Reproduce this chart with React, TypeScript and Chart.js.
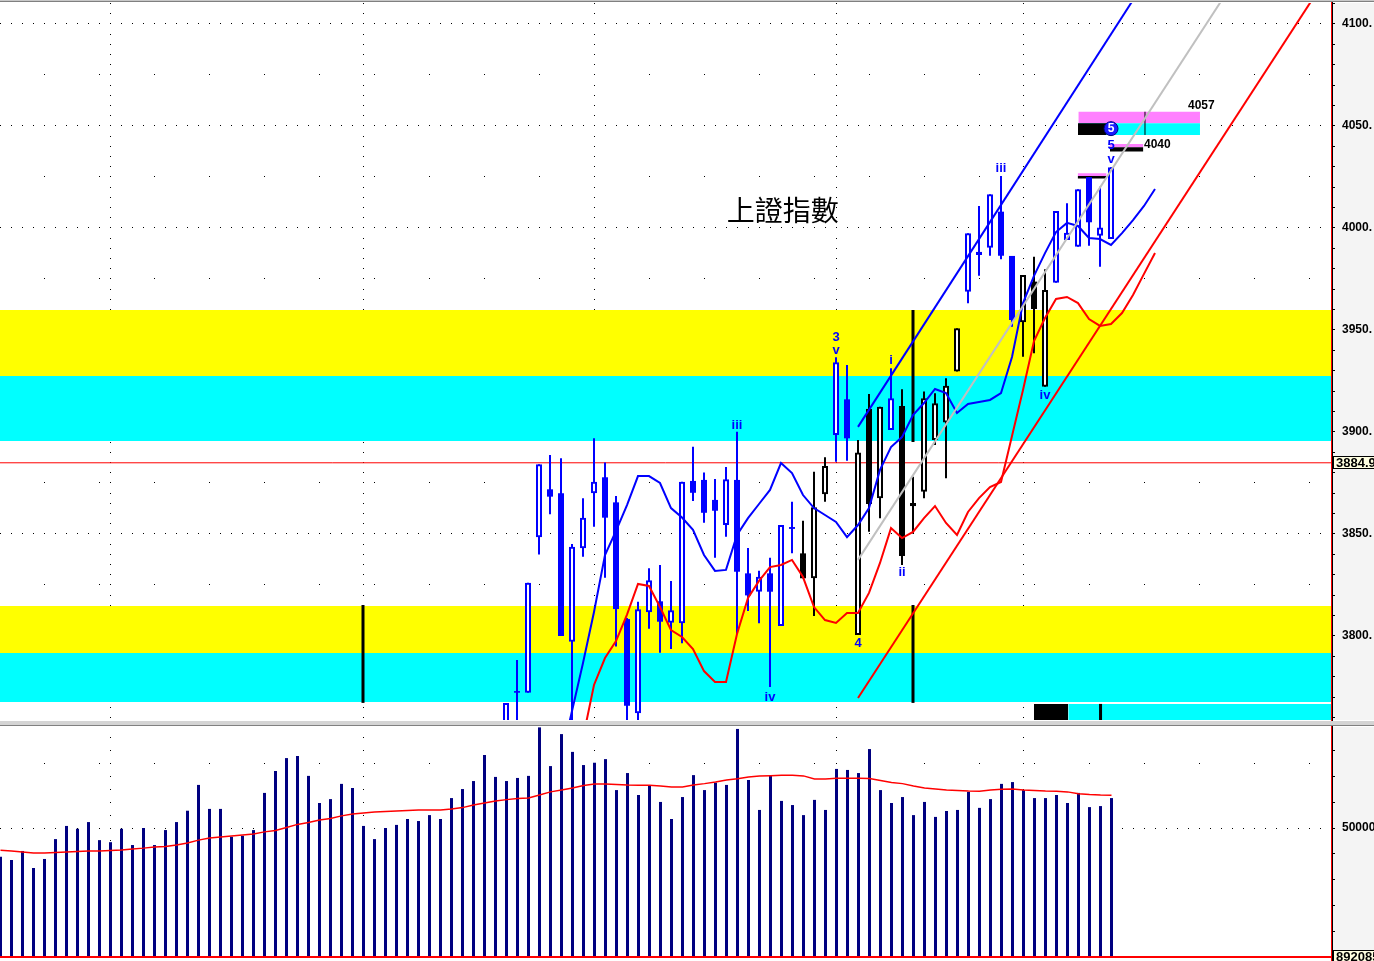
import React, { useEffect, useRef } from 'react';
import { Chart, registerables } from 'chart.js';

Chart.register(...registerables);

// ---------------- scale ranges ----------------
const X_MAX = 121.0;
const P_MIN = 3758.82;
const P_MAX = 4110.29;
const V_MIN = -775;
const V_MAX = 89148;

// ---------------- price candles (bar index 46 .. 101) ----------------
const CANDLE_START = 46;
const OPEN = [3752.0, 3773.0, 3772.2, 3848.4, 3871.9, 3870.0, 3797.2, 3843.0, 3870.0, 3877.8, 3865.5, 3808.3, 3762.1, 3811.6, 3817.0, 3806.5, 3806.2, 3876.0, 3876.5, 3866.7, 3854.4, 3876.5, 3830.7, 3821.7, 3830.7, 3804.9, 3853.4, 3840.5, 3828.3, 3869.5, 3898.5, 3916.0, 3800.5, 3911.3, 3867.5, 3901.0, 3912.7, 3865.2, 3870.7, 3896.1, 3904.6, 3929.6, 3968.8, 3986.8, 3990.3, 4008.0, 3986.3, 3953.8, 3973.7, 3922.2, 3973.2, 3994.1, 3990.8, 4024.9, 3996.2, 3994.6];
const HIGH = [3767.2, 3788.2, 3826.1, 3884.2, 3888.7, 3887.1, 3845.1, 3867.5, 3896.9, 3885.1, 3868.6, 3808.8, 3816.8, 3833.2, 3834.8, 3827.0, 3875.6, 3892.8, 3880.1, 3877.0, 3882.8, 3900.1, 3843.1, 3832.0, 3838.4, 3854.4, 3865.8, 3856.5, 3880.5, 3887.6, 3936.6, 3932.8, 3896.1, 3918.6, 3912.4, 3931.2, 3920.9, 3878.1, 3919.8, 3919.0, 3926.3, 3950.8, 3997.4, 4010.8, 4016.5, 4025.5, 3986.3, 3977.0, 3985.9, 3979.8, 4008.3, 4012.1, 4019.0, 4024.9, 4020.2, 4029.8];
const LOW = [3745.0, 3750.0, 3772.2, 3840.0, 3859.7, 3800.0, 3750.0, 3838.9, 3853.6, 3828.6, 3794.8, 3750.0, 3750.0, 3803.6, 3791.8, 3793.6, 3796.4, 3866.2, 3855.5, 3838.4, 3848.7, 3801.0, 3812.3, 3806.2, 3775.0, 3804.9, 3840.5, 3828.3, 3809.8, 3865.8, 3885.4, 3885.9, 3800.5, 3851.1, 3857.7, 3901.0, 3834.8, 3850.3, 3867.5, 3893.6, 3877.3, 3929.6, 3963.1, 3976.6, 3986.4, 3984.7, 3951.6, 3936.9, 3938.6, 3922.2, 3973.2, 3994.1, 3990.8, 3991.3, 3981.0, 3994.6];
const CLOSE = [3767.2, 3772.2, 3826.1, 3884.2, 3868.3, 3800.0, 3843.8, 3858.0, 3875.6, 3858.0, 3813.2, 3765.8, 3813.1, 3827.3, 3807.0, 3812.6, 3875.6, 3870.2, 3860.4, 3861.4, 3876.8, 3831.5, 3819.9, 3829.1, 3821.7, 3854.4, 3852.5, 3828.3, 3863.1, 3883.3, 3934.2, 3896.9, 3890.0, 3864.7, 3912.4, 3916.5, 3839.2, 3863.7, 3916.5, 3914.1, 3922.7, 3950.8, 3997.4, 3988.4, 4016.5, 3986.4, 3954.9, 3977.0, 3960.3, 3969.6, 4008.3, 3997.7, 4019.0, 4002.8, 4000.3, 4029.8];
// b = blue candle, k = black candle
const CANDLE_COLOR = 'bbbbbbbbbbbbbbbbbbbbbbbbbbbkkkbbkkkbkkkkkkbbbbbkkkbbbbbb'.split('');

// ---------------- moving averages (price) ----------------
const BLUE_MA_START = 51;
const BLUE_MA = [3739.7, 3763.2, 3786.8, 3811.8, 3839.7, 3851.5, 3864.2, 3878.4, 3878.4, 3875.0, 3862.7, 3858.1, 3852.0, 3839.7, 3831.9, 3832.4, 3849.5, 3857.8, 3864.7, 3871.6, 3884.8, 3879.9, 3869.1, 3862.7, 3859.3, 3855.9, 3848.5, 3854.4, 3862.7, 3881.4, 3892.6, 3897.5, 3908.3, 3914.2, 3921.1, 3919.1, 3909.3, 3913.7, 3914.7, 3915.7, 3919.1, 3936.8, 3963.2, 3976.5, 3987.7, 3998.0, 4002.5, 4001.0, 3995.1, 3994.6, 3991.7, 3997.5, 4003.9, 4010.8, 4019.1];
const RED_MA_START = 53;
const RED_MA = [3750.0, 3776.0, 3789.2, 3797.5, 3810.5, 3825.5, 3824.5, 3814.2, 3802.9, 3799.5, 3793.6, 3782.8, 3777.5, 3777.5, 3801.0, 3818.6, 3827.0, 3833.8, 3834.8, 3837.3, 3828.9, 3814.2, 3807.8, 3806.4, 3811.3, 3811.3, 3821.1, 3835.8, 3852.9, 3848.0, 3851.0, 3857.8, 3863.7, 3855.4, 3849.5, 3860.8, 3867.6, 3873.0, 3875.5, 3898.0, 3920.6, 3944.6, 3955.9, 3965.2, 3966.2, 3963.2, 3955.4, 3952.0, 3952.9, 3958.3, 3967.2, 3977.5, 3987.7];

// ---------------- trend lines (bar index, price) ----------------
const TREND_BLUE = [{ x: 78, y: 3902.5 }, { x: 104, y: 4120.1 }];
const TREND_GRAY = [{ x: 78, y: 3837.3 }, { x: 112, y: 4119.4 }];
const TREND_RED = [{ x: 78, y: 3769.6 }, { x: 122, y: 4134.4 }];

// ---------------- horizontal bands and zones ----------------
const BANDS = [
  { lo: 3927.5, hi: 3959.8, color: '#ffff00' },
  { lo: 3895.6, hi: 3927.5, color: '#00ffff' },
  { lo: 3791.7, hi: 3814.7, color: '#ffff00' },
  { lo: 3767.6, hi: 3791.7, color: '#00ffff' },
];
const ZONES = [
  { x0: 94, x1: 97.12, lo: P_MIN, hi: 3766.7, color: '#000000' },
  { x0: 97.12, x1: X_MAX, lo: P_MIN, hi: 3766.7, color: '#00ffff' },
  { x0: 98.03, x1: 109.09, lo: 4051.3, hi: 4057.0, color: '#ff80ff' },
  { x0: 98.03, x1: 109.09, lo: 4045.6, hi: 4051.3, color: '#00ffff' },
  { x0: 98.0, x1: 100.6, lo: 4045.6, hi: 4051.3, color: '#000000' },
  { x0: 100.9, x1: 103.94, lo: 4039.6, hi: 4041.2, color: '#ff80ff' },
  { x0: 100.9, x1: 103.94, lo: 4037.5, hi: 4039.6, color: '#000000' },
  { x0: 97.97, x1: 100.6, lo: 4025.5, hi: 4026.8, color: '#ff80ff' },
  { x0: 97.97, x1: 100.6, lo: 4024.2, hi: 4025.5, color: '#000000' },
];
const THICK_MARKERS = [
  { i: 33, lo: 3767.2, hi: 3815.2 },
  { i: 83, lo: 3767.2, hi: 3815.2 },
  { i: 83, lo: 3895.1, hi: 3959.8 },
  { i: 100.05, lo: P_MIN, hi: 3766.7 },
];
const THIN_MARKERS = [{ i: 104.09, lo: 4045.6, hi: 4057.0 }];
const LAST_LINE = 3884.9;
const WAVE5_POINT = { x: 101, y: 4048.7 };

// ---------------- text annotations ----------------
const WAVE_LABELS = [
  { i: 67, p: 3903.4, t: 'iii' },
  { i: 70, p: 3770.1, t: 'iv' },
  { i: 76, p: 3946.6, t: '3' },
  { i: 76, p: 3940.2, t: 'v' },
  { i: 78, p: 3796.6, t: '4' },
  { i: 81, p: 3935.3, t: 'i' },
  { i: 82, p: 3831.4, t: 'ii' },
  { i: 91, p: 4029.4, t: 'iii' },
  { i: 95, p: 3918.1, t: 'iv' },
  { i: 101, p: 4040.7, t: '5' },
  { i: 101, p: 4033.8, t: 'v' },
];
const PRICE_TAGS = [
  { i: 108.0, p: 4059.8, t: '4057' },
  { i: 104.0, p: 4040.7, t: '4040' },
];
const TITLE = { i: 71.15, p: 4008.8, t: '上證指數' };

// ---------------- axis ticks ----------------
const PRICE_LABELS = [3800, 3850, 3900, 3950, 4000, 4050, 4100];
const PRICE_HALF = [3775, 3825, 3875, 3925, 3975, 4025, 4075];
const PRICE_TICK_STEP = 10;
const MONTH_IDX = [10, 33, 54, 76, 93];
const VOL_TICKS = [0, 10000, 20000, 30000, 40000, 50000, 60000, 70000, 80000];
const VOL_LABEL = 50000;
const VOL_HALF = 75000;
const VOL_BASE_TEXT = '892085';

// ---------------- volume (bar index 0 .. 101) ----------------
const VOLUME = [38900, 37600, 41100, 34500, 38000, 45700, 50800, 49700, 52300, 45300, 44500, 49700, 43400, 50000, 43400, 49200, 52300, 56700, 66700, 57400, 57400, 46600, 47000, 49200, 63600, 72100, 77100, 77900, 70200, 59700, 61200, 67100, 65500, 50800, 45700, 50000, 51200, 53500, 52700, 55000, 53500, 61600, 65100, 68200, 78300, 69800, 68200, 69400, 70200, 89000, 74000, 86400, 79500, 74400, 75300, 76700, 64700, 71300, 62800, 66400, 60100, 53500, 62000, 70500, 64700, 67600, 66700, 88400, 68600, 57000, 70300, 60500, 58900, 55000, 60900, 57000, 72900, 72500, 71300, 80600, 64700, 59700, 62000, 55000, 60100, 54300, 56600, 57000, 64000, 57800, 61200, 67100, 67800, 64700, 61600, 61600, 62800, 59700, 63600, 58100, 58500, 61600];
const VOLUME_MA = [41400, 41100, 40700, 40300, 40300, 40500, 40700, 40900, 41100, 41100, 41300, 41500, 41900, 42200, 42600, 42800, 43400, 44200, 45300, 46100, 46500, 46900, 47300, 47700, 48500, 49000, 50200, 51400, 52100, 53100, 53700, 54700, 55400, 55800, 56200, 56400, 56600, 56800, 57000, 57000, 57000, 57400, 57900, 58900, 59700, 60500, 61000, 61400, 61600, 62800, 64000, 64700, 65500, 66500, 67100, 67100, 66900, 66700, 66600, 66600, 66300, 65900, 65900, 66700, 67200, 67800, 68600, 69100, 69800, 70200, 70300, 70400, 70400, 70200, 69000, 69000, 69300, 69300, 69300, 69200, 68400, 67600, 67200, 66300, 65500, 65100, 64700, 64500, 64300, 64200, 64700, 65000, 65100, 64700, 64500, 64300, 64200, 64000, 63300, 63000, 62800, 62700];

// ---------------- helpers ----------------
const AXIS_FONT = { family: '"Liberation Sans", Arial, sans-serif', size: 12, weight: 'bold' as const };
const LABEL_FONT = 'bold 13px "Liberation Sans", Arial, sans-serif';
const TAG_FONT = 'bold 12px "Liberation Sans", Arial, sans-serif';
const BOX_FONT = 'bold 13px "Liberation Sans", Arial, sans-serif';

function rectDataset(z: any, order: number) {
  return {
    type: 'line',
    data: [{ x: z.x0, y: z.hi }, { x: z.x1, y: z.hi }],
    fill: { value: z.lo },
    backgroundColor: z.color,
    borderColor: z.color,
    borderWidth: 0,
    pointRadius: 0,
    order,
  };
}
function segDataset(pts: any[], color: string, width: number, order: number) {
  return {
    type: 'line',
    data: pts,
    borderColor: color,
    borderWidth: width,
    pointRadius: 0,
    fill: false,
    tension: 0,
    order,
  };
}

function axisLines(chart: any) {
  const { ctx, chartArea: a, height } = chart;
  ctx.save();
  ctx.fillStyle = '#ff0000';
  ctx.fillRect(Math.round(a.right), 0, 1, height);
  ctx.fillStyle = '#000000';
  ctx.fillRect(Math.round(a.right) + 1, 0, 1, height);
  ctx.restore();
}
function valueBox(chart: any, yPix: number, text: string) {
  const { ctx, chartArea: a } = chart;
  const x0 = Math.round(a.right) + 2;
  const yc = Math.round(yPix);
  ctx.save();
  ctx.fillStyle = '#ffffe1';
  ctx.fillRect(x0, yc - 7, 60, 13);
  ctx.strokeStyle = '#000';
  ctx.lineWidth = 1;
  ctx.strokeRect(x0 + 0.5, yc - 6.5, 60, 12);
  ctx.fillStyle = '#000';
  ctx.font = BOX_FONT;
  ctx.textAlign = 'left';
  ctx.textBaseline = 'middle';
  ctx.fillText(text, x0 + 3, yc + 0.5);
  ctx.restore();
}

const priceDecor = {
  id: 'priceDecor',
  beforeDatasetsDraw(chart: any) {
    const { ctx, chartArea: a, scales } = chart;
    const xs = scales.x, ys = scales.y;
    ctx.save();
    ctx.beginPath();
    ctx.rect(a.left, a.top, a.right - a.left, a.bottom - a.top);
    ctx.clip();
    ctx.fillStyle = '#000';
    const dot = (i: number, p: number) =>
      ctx.fillRect(Math.floor(xs.getPixelForValue(i)), Math.floor(ys.getPixelForValue(p)), 1, 1);
    for (const p of PRICE_LABELS) for (let i = 0; i <= X_MAX; i++) dot(i, p);
    for (const p of PRICE_HALF) for (let i = 4; i <= X_MAX; i += 5) dot(i, p);
    for (const i of MONTH_IDX) for (let p = 3760; p <= 4110; p += 5) dot(i, p);
    ctx.restore();
  },
  afterDatasetsDraw(chart: any) {
    const { ctx, scales } = chart;
    const xs = scales.x, ys = scales.y;
    ctx.save();
    ctx.textBaseline = 'middle';
    ctx.textAlign = 'center';
    ctx.font = LABEL_FONT;
    ctx.fillStyle = '#0000ff';
    for (const L of WAVE_LABELS) ctx.fillText(L.t, xs.getPixelForValue(L.i), ys.getPixelForValue(L.p));
    // number inside the wave-5 circle
    ctx.fillStyle = '#ffffff';
    ctx.font = 'bold 12px "Liberation Sans", Arial, sans-serif';
    ctx.fillText('5', xs.getPixelForValue(WAVE5_POINT.x), ys.getPixelForValue(WAVE5_POINT.y) + 0.5);
    // price tags
    ctx.textAlign = 'left';
    ctx.font = TAG_FONT;
    ctx.fillStyle = '#000';
    for (const T of PRICE_TAGS) ctx.fillText(T.t, xs.getPixelForValue(T.i), ys.getPixelForValue(T.p));
    // title
    ctx.textAlign = 'center';
    ctx.font = '28px "Noto Sans CJK TC", "Noto Sans CJK SC", sans-serif';
    ctx.fillText(TITLE.t, xs.getPixelForValue(TITLE.i), ys.getPixelForValue(TITLE.p));
    ctx.restore();
  },
  afterDraw(chart: any) {
    axisLines(chart);
    valueBox(chart, chart.scales.y.getPixelForValue(LAST_LINE), LAST_LINE.toFixed(1));
  },
};

const volDecor = {
  id: 'volDecor',
  beforeDatasetsDraw(chart: any) {
    const { ctx, chartArea: a, scales } = chart;
    const xs = scales.x, ys = scales.y;
    ctx.save();
    ctx.beginPath();
    ctx.rect(a.left, a.top, a.right - a.left, a.bottom - a.top);
    ctx.clip();
    ctx.fillStyle = '#000';
    const dot = (i: number, v: number) =>
      ctx.fillRect(Math.floor(xs.getPixelForValue(i)), Math.floor(ys.getPixelForValue(v)), 1, 1);
    for (let i = 0; i <= X_MAX; i++) dot(i, VOL_LABEL);
    for (let i = 4; i <= X_MAX; i += 5) dot(i, VOL_HALF);
    for (const i of MONTH_IDX) for (let v = 0; v <= 85000; v += 5000) dot(i, v);
    ctx.restore();
  },
  afterDraw(chart: any) {
    axisLines(chart);
    valueBox(chart, chart.scales.y.getPixelForValue(0), VOL_BASE_TEXT);
  },
};

function priceConfig(): any {
  const idx = OPEN.map((_, k) => CANDLE_START + k);
  const col = (k: number) => (CANDLE_COLOR[k] === 'k' ? '#000000' : '#0000ff');
  const down = (k: number) => CLOSE[k] < OPEN[k];
  const priceTicks: number[] = [];
  for (let v = 3760; v <= 4110; v += PRICE_TICK_STEP) priceTicks.push(v);

  const datasets: any[] = [];
  BANDS.forEach((b) => datasets.push(rectDataset({ x0: 0, x1: X_MAX, lo: b.lo, hi: b.hi, color: b.color }, 100)));
  ZONES.forEach((z, k) => datasets.push(rectDataset(z, 95 - k * 0.1)));
  THICK_MARKERS.forEach((m) =>
    datasets.push(segDataset([{ x: m.i, y: m.lo }, { x: m.i, y: m.hi }], '#000000', 3, 90))
  );
  THIN_MARKERS.forEach((m) =>
    datasets.push(segDataset([{ x: m.i, y: m.lo }, { x: m.i, y: m.hi }], '#000000', 1, 89))
  );
  datasets.push(segDataset([{ x: 0, y: LAST_LINE }, { x: X_MAX, y: LAST_LINE }], '#ff0000', 1, 88));
  datasets.push({
    type: 'bar',
    data: idx.map((x, k) => ({ x, y: [LOW[k], HIGH[k]] })),
    backgroundColor: idx.map((_, k) => col(k)),
    borderWidth: 0,
    barThickness: 2,
    grouped: false,
    inflateAmount: 0,
    order: 60,
  });
  datasets.push({
    type: 'bar',
    data: idx.map((x, k) => ({ x, y: [OPEN[k], CLOSE[k]] })),
    backgroundColor: idx.map((_, k) => (down(k) ? col(k) : '#ffffff')),
    borderColor: idx.map((_, k) => col(k)),
    borderWidth: idx.map((_, k) => (down(k) ? 0 : 2)),
    borderSkipped: false,
    barThickness: 6,
    grouped: false,
    inflateAmount: 0,
    order: 59,
  });
  datasets.push(segDataset(RED_MA.map((y, k) => ({ x: RED_MA_START + k, y })), '#ff0000', 2, 50));
  datasets.push(segDataset(BLUE_MA.map((y, k) => ({ x: BLUE_MA_START + k, y })), '#0000ff', 2, 49));
  datasets.push(segDataset(TREND_GRAY, '#c0c0c0', 2, 42));
  datasets.push(segDataset(TREND_RED, '#ff0000', 2, 41));
  datasets.push(segDataset(TREND_BLUE, '#0000ff', 2, 40));
  datasets.push({
    type: 'line',
    data: [WAVE5_POINT],
    showLine: false,
    pointRadius: 7,
    pointBackgroundColor: '#1a1aff',
    pointBorderColor: '#000080',
    pointBorderWidth: 1,
    order: 10,
  });

  return {
    type: 'bar',
    data: { datasets },
    options: {
      animation: false,
      responsive: false,
      devicePixelRatio: 1,
      layout: { autoPadding: false, padding: { top: 3, bottom: 1, left: 0, right: 0 } },
      plugins: { legend: { display: false }, tooltip: { enabled: false } },
      events: [],
      scales: {
        x: { type: 'linear', min: 0, max: X_MAX, display: false, offset: false },
        y: {
          position: 'right',
          min: P_MIN,
          max: P_MAX,
          backgroundColor: '#f4f4f4',
          afterBuildTicks: (s: any) => {
            s.ticks = priceTicks.map((v) => ({ value: v }));
          },
          afterFit: (s: any) => {
            s.width = 43;
            s.paddingTop = 0;
            s.paddingBottom = 0;
          },
          grid: { display: true, drawOnChartArea: false, drawTicks: true, tickLength: 4, color: '#000', tickColor: '#000' },
          border: { display: false },
          ticks: {
            autoSkip: false,
            padding: 7,
            color: '#000',
            font: AXIS_FONT,
            callback: (v: number) => (PRICE_LABELS.includes(v) ? v + '.' : ''),
          },
        },
      },
    },
    plugins: [priceDecor],
  };
}

function volConfig(): any {
  const off = 0.5 / 11;
  return {
    type: 'bar',
    data: {
      datasets: [
        {
          type: 'bar',
          data: VOLUME.map((y, x) => ({ x, y })),
          backgroundColor: '#000080',
          borderWidth: 0,
          barThickness: 3,
          grouped: false,
          inflateAmount: 0,
          order: 10,
        },
        segDataset(VOLUME_MA.map((y, x) => ({ x, y })), '#ff0000', 1.5, 5),
        segDataset([{ x: -1, y: 0 }, { x: X_MAX + 1, y: 0 }], '#ff0000', 2, 4),
      ],
    },
    options: {
      animation: false,
      responsive: false,
      devicePixelRatio: 1,
      layout: { autoPadding: false, padding: { top: 1, bottom: 2, left: 0, right: 0 } },
      plugins: { legend: { display: false }, tooltip: { enabled: false } },
      events: [],
      scales: {
        x: { type: 'linear', min: -off, max: X_MAX - off, display: false, offset: false },
        y: {
          position: 'right',
          min: V_MIN,
          max: V_MAX,
          backgroundColor: '#f4f4f4',
          afterBuildTicks: (s: any) => {
            s.ticks = VOL_TICKS.map((v) => ({ value: v }));
          },
          afterFit: (s: any) => {
            s.width = 43;
            s.paddingTop = 0;
            s.paddingBottom = 0;
          },
          grid: { display: true, drawOnChartArea: false, drawTicks: true, tickLength: 4, color: '#000', tickColor: '#000' },
          border: { display: false },
          ticks: {
            autoSkip: false,
            padding: 7,
            color: '#000',
            font: AXIS_FONT,
            callback: (v: number) => (v === VOL_LABEL ? String(v) : ''),
          },
        },
      },
    },
    plugins: [volDecor],
  };
}

export default function App() {
  const priceRef = useRef<HTMLCanvasElement>(null);
  const volRef = useRef<HTMLCanvasElement>(null);

  useEffect(() => {
    const pc = new Chart(priceRef.current as HTMLCanvasElement, priceConfig());
    const vc = new Chart(volRef.current as HTMLCanvasElement, volConfig());
    return () => {
      pc.destroy();
      vc.destroy();
    };
  }, []);

  return (
    <div style={{ position: 'fixed', left: 0, top: 0, width: 1374, height: 961, background: '#ffffff', overflow: 'hidden' }}>
      <canvas
        ref={priceRef}
        width={1374}
        height={721}
        style={{ position: 'absolute', left: 0, top: 0, width: 1374, height: 721 }}
      />
      <div style={{ position: 'absolute', left: 0, top: 0, width: 1374, height: 1, background: '#c8c8c8' }} />
      <div style={{ position: 'absolute', left: 0, top: 1, width: 1374, height: 1, background: '#808080' }} />
      <div style={{ position: 'absolute', left: 0, top: 721, width: 1374, height: 4, background: '#d4d4d4' }} />
      <div style={{ position: 'absolute', left: 0, top: 725, width: 1374, height: 1, background: '#808080' }} />
      <canvas
        ref={volRef}
        width={1374}
        height={235}
        style={{ position: 'absolute', left: 0, top: 726, width: 1374, height: 235 }}
      />
    </div>
  );
}
